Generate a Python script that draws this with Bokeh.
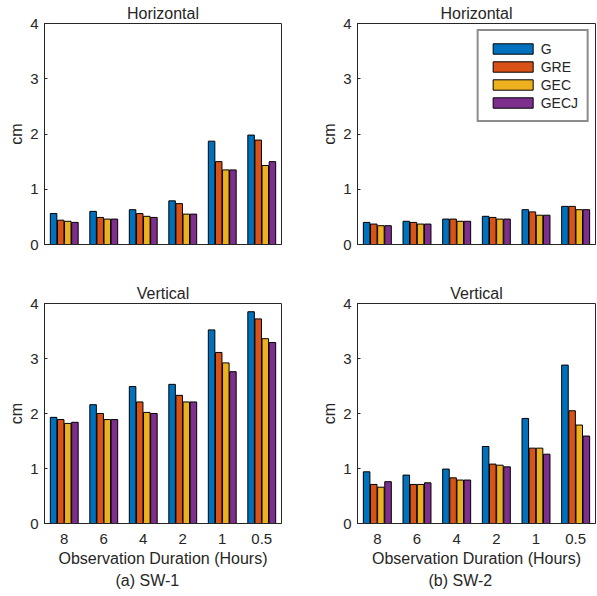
from bokeh.plotting import figure
from bokeh.models import FactorRange, Range1d, FixedTicker, Legend, LegendItem, Title, ColumnDataSource
from bokeh.transform import dodge
from bokeh.layouts import column, row
from bokeh.embed import file_html
from bokeh.resources import INLINE

durations = ["8", "6", "4", "2", "1", "0.5"]
series = ["G", "GRE", "GEC", "GECJ"]
colors = ["#0072BD", "#D95319", "#EDB120", "#7E2F8E"]

# (a) SW-1 Horizontal
sw1_h_G = [0.56, 0.60, 0.63, 0.79, 1.87, 1.98]
sw1_h_GRE = [0.44, 0.49, 0.56, 0.74, 1.50, 1.89]
sw1_h_GEC = [0.42, 0.46, 0.51, 0.55, 1.35, 1.43]
sw1_h_GECJ = [0.40, 0.46, 0.49, 0.55, 1.35, 1.50]

# (b) SW-2 Horizontal
sw2_h_G = [0.40, 0.42, 0.46, 0.51, 0.63, 0.69]
sw2_h_GRE = [0.37, 0.40, 0.46, 0.49, 0.59, 0.69]
sw2_h_GEC = [0.34, 0.37, 0.42, 0.46, 0.53, 0.63]
sw2_h_GECJ = [0.34, 0.37, 0.42, 0.46, 0.53, 0.63]

# (a) SW-1 Vertical
sw1_v_G = [1.93, 2.16, 2.49, 2.53, 3.52, 3.85]
sw1_v_GRE = [1.89, 2.00, 2.21, 2.33, 3.11, 3.72]
sw1_v_GEC = [1.82, 1.89, 2.02, 2.21, 2.92, 3.36]
sw1_v_GECJ = [1.84, 1.89, 2.00, 2.21, 2.76, 3.29]

# (b) SW-2 Vertical
sw2_v_G = [0.94, 0.88, 0.99, 1.40, 1.91, 2.88]
sw2_v_GRE = [0.71, 0.71, 0.83, 1.08, 1.37, 2.05]
sw2_v_GEC = [0.66, 0.71, 0.79, 1.06, 1.37, 1.79]
sw2_v_GECJ = [0.76, 0.74, 0.79, 1.03, 1.26, 1.59]

y_ticks = [0, 1, 2, 3, 4]

FONT = "Liberation Sans"
TXT = "#262626"


def panel(vals, title, top, left, caption=None, legend=False):
    w = 300 if left else 297
    h = 260 if top else 336
    p = figure(
        width=w, height=h,
        x_range=FactorRange(factors=durations),
        y_range=Range1d(0, 4),
        output_backend="svg", toolbar_location=None,
        min_border_left=44 if left else 57,
        min_border_right=19 if left else 2,
        min_border_top=23 if top else 43,
        min_border_bottom=16 if top else 73,
    )
    p.title.text = title
    p.title.align = "center"
    p.title.text_font = FONT
    p.title.text_font_size = "16px"
    p.title.text_font_style = "normal"
    p.title.text_color = TXT
    p.title.standoff = 3

    src = ColumnDataSource(dict(dur=durations, G=vals[0], GRE=vals[1], GEC=vals[2], GECJ=vals[3]))
    offsets = [-0.27, -0.09, 0.09, 0.27]
    rends = []
    for s, c, o in zip(series, colors, offsets):
        r = p.vbar(x=dodge("dur", o, range=p.x_range), top=s, width=0.165, source=src,
                   fill_color=c, line_color="black", line_width=1)
        rends.append(r)

    p.xgrid.visible = False
    p.ygrid.visible = False
    p.outline_line_color = TXT
    p.outline_line_width = 1

    for ax in (p.xaxis[0], p.yaxis[0]):
        ax.axis_line_color = TXT
        ax.major_tick_line_color = TXT
        ax.major_tick_in = 3
        ax.major_tick_out = 0
        ax.minor_tick_line_color = None
        ax.major_label_text_font = FONT
        ax.major_label_text_color = TXT
        ax.major_label_text_font_size = "15px"
        ax.axis_label_text_font = FONT
        ax.axis_label_text_font_size = "16px"
        ax.axis_label_text_font_style = "normal"
        ax.axis_label_text_color = TXT

    p.yaxis.ticker = FixedTicker(ticks=y_ticks)
    p.yaxis.axis_label = "cm"
    p.yaxis.major_label_standoff = 6
    p.yaxis.axis_label_standoff = 2
    p.xaxis.major_label_standoff = 10
    p.xaxis.axis_label_standoff = 3

    if top:
        p.xaxis.major_label_text_color = None
    else:
        p.xaxis.axis_label = "Observation Duration (Hours)"
    if caption:
        t = Title(text=caption, align="left", text_font=FONT, text_font_size="16px",
                  text_font_style="normal", text_color=TXT, standoff=0, offset=71)
        p.add_layout(t, "below")

    if legend:
        lg = Legend(items=[LegendItem(label=s, renderers=[r]) for s, r in zip(series, rends)],
                    location="top_right", margin=6, padding=9, spacing=1,
                    glyph_width=50, glyph_height=13, label_standoff=3,
                    label_text_font=FONT, label_text_font_size="14px", label_text_color=TXT,
                    label_height=17,
                    border_line_color="#1a1a1a", border_line_width=2, background_fill_color="white",
                    background_fill_alpha=1)
        p.add_layout(lg)
    return p


p1 = panel([sw1_h_G, sw1_h_GRE, sw1_h_GEC, sw1_h_GECJ], "Horizontal", True, True)
p2 = panel([sw2_h_G, sw2_h_GRE, sw2_h_GEC, sw2_h_GECJ], "Horizontal", True, False, legend=True)
p3 = panel([sw1_v_G, sw1_v_GRE, sw1_v_GEC, sw1_v_GECJ], "Vertical", False, True, caption="(a) SW-1")
p4 = panel([sw2_v_G, sw2_v_GRE, sw2_v_GEC, sw2_v_GECJ], "Vertical", False, False, caption="(b) SW-2")

layout = column(row(p1, p2), row(p3, p4))

with open("out.html", "w") as f:
    f.write(file_html(layout, INLINE))
